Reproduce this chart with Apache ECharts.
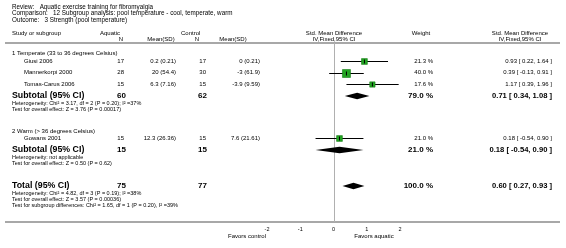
<!DOCTYPE html>
<html><head><meta charset="utf-8">
<script src="https://cdn.jsdelivr.net/npm/echarts@6/dist/echarts.min.js"></script>
<style>html,body{margin:0;padding:0;background:#fff}#c{width:566px;height:248px}</style>
</head><body><div id="c"></div>
<script>
// ---------- data ----------
const titleLines = [
  'Review:   Aquatic exercise training for fibromyalgia',
  'Comparison:   12 Subgroup analysis: pool temperature - cool, temperate, warm',
  'Outcome:   3 Strength (pool temperature)'
];
const groupNames = ['1 Temperate (33 to 36 degrees Celsius)', '2 Warm (> 36 degrees Celsius)'];
const studies = ['Giusi 2006', 'Mannerkorpi 2000', 'Tomas-Carus 2006', 'Gowans 2001'];
const aqN = [17, 28, 15, 15];
const aqMean = ['0.2 (0.21)', '20 (54.4)', '6.3 (7.16)', '12.3 (26.36)'];
const ctN = [17, 30, 15, 15];
const ctMean = ['0 (0.21)', '-3 (61.9)', '-3.9 (9.59)', '7.6 (21.61)'];
const smd = [0.93, 0.39, 1.17, 0.18];
const ciLo = [0.22, -0.13, 0.39, -0.54];
const ciHi = [1.64, 0.91, 1.96, 0.90];
const weight = [21.3, 40.0, 17.6, 21.0];

const subAqN = [60, 15];
const subCtN = [62, 15];
const subSmd = [0.71, 0.18];
const subLo = [0.34, -0.54];
const subHi = [1.08, 0.90];
const subWeight = [79.0, 21.0];
const subHet = ['Heterogeneity: Chi² = 3.17, df = 2 (P = 0.20); I² =37%', 'Heterogeneity: not applicable'];
const subTest = ['Test for overall effect: Z = 3.76 (P = 0.00017)', 'Test for overall effect: Z = 0.50 (P = 0.62)'];

const totAqN = 75, totCtN = 77;
const totSmd = 0.60, totLo = 0.27, totHi = 0.93, totWeight = 100.0;
const totNotes = [
  'Heterogeneity: Chi² = 4.82, df = 3 (P = 0.19); I² =38%',
  'Test for overall effect: Z = 3.57 (P = 0.00036)',
  'Test for subgroup differences: Chi² = 1.65, df = 1 (P = 0.20), I² =39%'
];
const xTicks = [-2, -1, 0, 1, 2];
const favorsLeft = 'Favors control', favorsRight = 'Favors aquatic';

// ---------- layout ----------
const FONT = 'Liberation Sans, Arial, sans-serif';
const studyY = [61, 72.5, 84, 138];
const groupY = [53, 131];
const subY = [96, 150];
const subHetY = [103, 157];
const subTestY = [109, 163];
const totY = 186;
const totNoteY = [193, 199, 205];
const AXIS_Y = 222;
const HLINE_Y = 43;
const col = {aqN: 124, aqMean: 176, ctN: 206, ctMean: 260, weight: 433, eff: 552};
const FS = 6, FSB = 8, FSN = 5.5, FST = 6.3, FSL = 8.8;

function fmt(v){ return v.toFixed(2); }
function effText(e, l, h){ return fmt(e) + ' [ ' + fmt(l) + ', ' + fmt(h) + ' ]'; }

const G = [];
function T(text, x, y, size, align, bold){
  G.push({type:'text', silent:true, style:{text:String(text), x:x, y:y,
    font:(bold?'bold ':'') + size + 'px ' + FONT, fill:'#000',
    textAlign:align||'left', textVerticalAlign:'middle', align:align||'left', verticalAlign:'middle'}});
}
function L(x1,y1,x2,y2,c,w){
  G.push({type:'line', silent:true, shape:{x1:x1,y1:y1,x2:x2,y2:y2}, style:{stroke:c,lineWidth:w}});
}

titleLines.forEach((t,i)=>T(t, 12, [7,13.5,20][i], FST));
T('Study or subgroup', 12, 33, FS);
T('Aquatic', 100, 33, FS);
T('N', 121, 39.5, FS, 'center');
T('Mean(SD)', 161, 39.5, FS, 'center');
T('Control', 181, 33, FS);
T('N', 197, 39.5, FS, 'center');
T('Mean(SD)', 233, 39.5, FS, 'center');
T('Std. Mean Difference', 334, 33, FS, 'center');
T('IV,Fixed,95% CI', 334, 39.5, FS, 'center');
T('Weight', 421, 33, FS, 'center');
T('Std. Mean Difference', 520, 33, FS, 'center');
T('IV,Fixed,95% CI', 520, 39.5, FS, 'center');
L(5, HLINE_Y, 560, HLINE_Y, '#a8a8a8', 2);
L(5, AXIS_Y, 560, AXIS_Y, '#a8a8a8', 2);

groupNames.forEach((g,i)=>T(g, 12, groupY[i], FS));
studies.forEach((s,i)=>{
  const y = studyY[i];
  T(s, 24, y, FS);
  T(aqN[i], col.aqN, y, FS, 'right');
  T(aqMean[i], col.aqMean, y, FS, 'right');
  T(ctN[i], col.ctN, y, FS, 'right');
  T(ctMean[i], col.ctMean, y, FS, 'right');
  T(weight[i].toFixed(1) + ' %', col.weight, y, FS, 'right');
  T(effText(smd[i], ciLo[i], ciHi[i]), col.eff, y, FS, 'right');
});
subY.forEach((y,i)=>{
  T('Subtotal (95% CI)', 12, y, FSL, 'left', true);
  T(subAqN[i], col.aqN+2, y, FSB, 'right', true);
  T(subCtN[i], col.ctN+1, y, FSB, 'right', true);
  T(subWeight[i].toFixed(1) + ' %', col.weight, y, FSB, 'right', true);
  T(effText(subSmd[i], subLo[i], subHi[i]), col.eff, y, FSB-0.4, 'right', true);
  T(subHet[i], 12, subHetY[i], FSN);
  T(subTest[i], 12, subTestY[i], FSN);
});
T('Total (95% CI)', 12, totY, FSL, 'left', true);
T(totAqN, col.aqN+2, totY, FSB, 'right', true);
T(totCtN, col.ctN+1, totY, FSB, 'right', true);
T(totWeight.toFixed(1) + ' %', col.weight, totY, FSB, 'right', true);
T(effText(totSmd, totLo, totHi), col.eff, totY, FSB-0.4, 'right', true);
totNotes.forEach((t,i)=>T(t, 12, totNoteY[i], FSN));

// ---------- marks ----------
const studyData = studies.map((s,i)=>[smd[i], ciLo[i], ciHi[i], studyY[i], weight[i]]);
const diamondData = subSmd.map((v,i)=>[v, subLo[i], subHi[i], subY[i]]).concat([[totSmd, totLo, totHi, totY]]);

const chart = echarts.init(document.getElementById('c'), null, {renderer:'canvas'});
chart.setOption({
  animation:false,
  backgroundColor:'#fff',
  grid:{left:267, width:133, top:0, height:AXIS_Y, containLabel:false},
  xAxis:{type:'value', min:-2, max:2, interval:1,
    axisLine:{show:false}, splitLine:{show:false},
    axisTick:{show:true, inside:true, length:2, lineStyle:{color:'#555', width:1}},
    axisLabel:{fontSize:5.5, fontFamily:FONT, color:'#000', margin:4,
      formatter:v=> xTicks.indexOf(v)>=0 ? String(v) : ''}},
  yAxis:{type:'value', min:0, max:AXIS_Y, inverse:true, show:false},
  graphic:{elements:G.concat([
    {type:'text', silent:true, style:{text:favorsLeft, x:247, y:236, font:'6px '+FONT, fill:'#000', textAlign:'center', align:'center', textVerticalAlign:'middle', verticalAlign:'middle'}},
    {type:'text', silent:true, style:{text:favorsRight, x:374, y:236, font:'6px '+FONT, fill:'#000', textAlign:'center', align:'center', textVerticalAlign:'middle', verticalAlign:'middle'}}
  ])},
  series:[
    {type:'custom', silent:true, data:[[0]], z:1,
      renderItem:(p,api)=>{
        const a = api.coord([0, HLINE_Y]); const b = api.coord([0, AXIS_Y]);
        const x = Math.round(a[0]) + 0.5;
        return {type:'line', shape:{x1:x,y1:a[1],x2:x,y2:b[1]}, style:{stroke:'#b0b0b0', lineWidth:1}};
      }},
    {type:'custom', silent:true, data:studyData, z:3,
      renderItem:(p,api)=>{
        const e=api.value(0), l=api.value(1), h=api.value(2), y=api.value(3), w=api.value(4);
        const pc=api.coord([e,y]), pl=api.coord([l,y]), ph=api.coord([h,y]);
        const s = 8*Math.sqrt(w/40);
        const yy = Math.round(pc[1]) + 0.5;
        return {type:'group', children:[
          {type:'line', shape:{x1:pl[0],y1:yy,x2:ph[0],y2:yy}, style:{stroke:'#000', lineWidth:1}},
          {type:'rect', shape:{x:pc[0]-s/2, y:yy-s/2, width:s, height:s}, style:{fill:'#22a322', stroke:'#178017', lineWidth:0.6}},
          {type:'line', shape:{x1:pc[0],y1:yy-2,x2:pc[0],y2:yy+2}, style:{stroke:'#000', lineWidth:1}}
        ]};
      }},
    {type:'custom', silent:true, data:diamondData, z:3,
      renderItem:(p,api)=>{
        const e=api.value(0), l=api.value(1), h=api.value(2), y=api.value(3);
        const pc=api.coord([e,y]), pl=api.coord([l,y]), ph=api.coord([h,y]);
        return {type:'polygon', shape:{points:[[pl[0],pc[1]],[pc[0],pc[1]-3.2],[ph[0],pc[1]],[pc[0],pc[1]+3.2]]},
          style:{fill:'#000'}};
      }}
  ]
});
</script></body></html>
